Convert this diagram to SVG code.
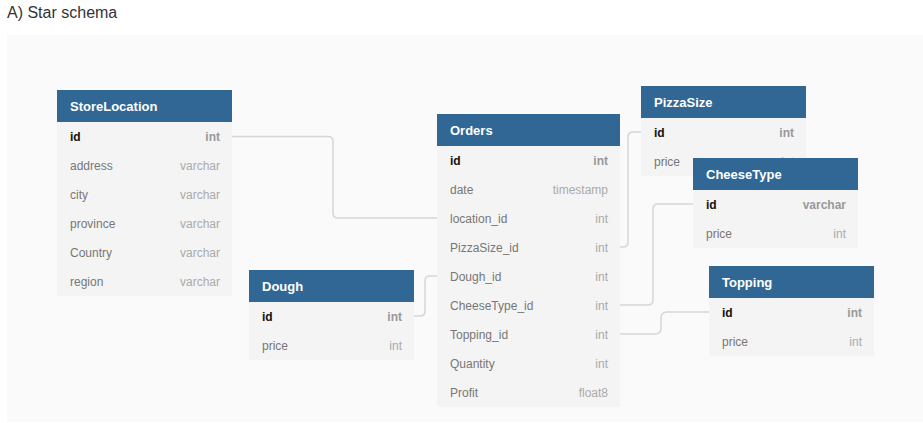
<svg xmlns="http://www.w3.org/2000/svg" width="923" height="423" viewBox="0 0 923 423">
<style>
.title{font-family:"Liberation Sans",Arial,sans-serif;font-size:16px;fill:#333}
.hdr{fill:#316794}
.body{fill:#f4f4f4}
.hname{font-family:"Liberation Sans",Arial,sans-serif;font-size:13px;font-weight:bold;fill:#fff}
.f{font-family:"Liberation Sans",Arial,sans-serif;font-size:12px;fill:#777}
.t{font-family:"Liberation Sans",Arial,sans-serif;font-size:12px;fill:#aaa;text-anchor:end}
.fk{font-weight:bold;fill:#111}
.tk{font-weight:bold;fill:#999}
.conn path{fill:none;stroke:#d6d6d6;stroke-width:1.5}
</style>
<rect width="923" height="423" fill="#fff"/>
<text class="title" x="7" y="18">A) Star schema</text>
<rect x="7" y="35" width="916" height="387" fill="#fafafa"/>
<g id="connectors" class="conn">
<path d="M232,136.5 H328 Q333,136.5 333,141.5 V213 Q333,218 338,218 H437"/>
<path d="M620,247 H623 Q628,247 628,242 V137 Q628,132 633,132 H641"/>
<path d="M620,305 H648 Q653,305 653,300 V209 Q653,204 658,204 H693"/>
<path d="M620,334 H655 Q661,334 661,328 V318 Q661,312 667,312 H709"/>
<path d="M414,316 H420 Q425,316 425,311 V281 Q425,276 430,276 H437"/>
</g>
<g id="StoreLocation">
<rect class="body" x="57" y="122" width="175" height="174"/>
<rect class="hdr" x="57" y="90" width="175" height="32"/>
<text class="hname" x="70" y="111">StoreLocation</text>
<text class="f fk" x="70" y="141">id</text><text class="t tk" x="220" y="141">int</text>
<text class="f" x="70" y="170">address</text><text class="t" x="220" y="170">varchar</text>
<text class="f" x="70" y="199">city</text><text class="t" x="220" y="199">varchar</text>
<text class="f" x="70" y="228">province</text><text class="t" x="220" y="228">varchar</text>
<text class="f" x="70" y="257">Country</text><text class="t" x="220" y="257">varchar</text>
<text class="f" x="70" y="286">region</text><text class="t" x="220" y="286">varchar</text>
</g>
<g id="Orders">
<rect class="body" x="437" y="146" width="183" height="261"/>
<rect class="hdr" x="437" y="114" width="183" height="32"/>
<text class="hname" x="450" y="135">Orders</text>
<text class="f fk" x="450" y="165">id</text><text class="t tk" x="608" y="165">int</text>
<text class="f" x="450" y="194">date</text><text class="t" x="608" y="194">timestamp</text>
<text class="f" x="450" y="223">location_id</text><text class="t" x="608" y="223">int</text>
<text class="f" x="450" y="252">PizzaSize_id</text><text class="t" x="608" y="252">int</text>
<text class="f" x="450" y="281">Dough_id</text><text class="t" x="608" y="281">int</text>
<text class="f" x="450" y="310">CheeseType_id</text><text class="t" x="608" y="310">int</text>
<text class="f" x="450" y="339">Topping_id</text><text class="t" x="608" y="339">int</text>
<text class="f" x="450" y="368">Quantity</text><text class="t" x="608" y="368">int</text>
<text class="f" x="450" y="397">Profit</text><text class="t" x="608" y="397">float8</text>
</g>
<g id="PizzaSize">
<rect class="body" x="641" y="118" width="165" height="58"/>
<rect class="hdr" x="641" y="86" width="165" height="32"/>
<text class="hname" x="654" y="107">PizzaSize</text>
<text class="f fk" x="654" y="137">id</text><text class="t tk" x="794" y="137">int</text>
<text class="f" x="654" y="166">price</text><text class="t" x="794" y="166">int</text>
</g>
<g id="CheeseType">
<rect class="body" x="693" y="190" width="165" height="58"/>
<rect class="hdr" x="693" y="158" width="165" height="32"/>
<text class="hname" x="706" y="179">CheeseType</text>
<text class="f fk" x="706" y="209">id</text><text class="t tk" x="846" y="209">varchar</text>
<text class="f" x="706" y="238">price</text><text class="t" x="846" y="238">int</text>
</g>
<g id="Dough">
<rect class="body" x="249" y="302" width="165" height="58"/>
<rect class="hdr" x="249" y="270" width="165" height="32"/>
<text class="hname" x="262" y="291">Dough</text>
<text class="f fk" x="262" y="321">id</text><text class="t tk" x="402" y="321">int</text>
<text class="f" x="262" y="350">price</text><text class="t" x="402" y="350">int</text>
</g>
<g id="Topping">
<rect class="body" x="709" y="298" width="165" height="58"/>
<rect class="hdr" x="709" y="266" width="165" height="32"/>
<text class="hname" x="722" y="287">Topping</text>
<text class="f fk" x="722" y="317">id</text><text class="t tk" x="862" y="317">int</text>
<text class="f" x="722" y="346">price</text><text class="t" x="862" y="346">int</text>
</g>
</svg>
